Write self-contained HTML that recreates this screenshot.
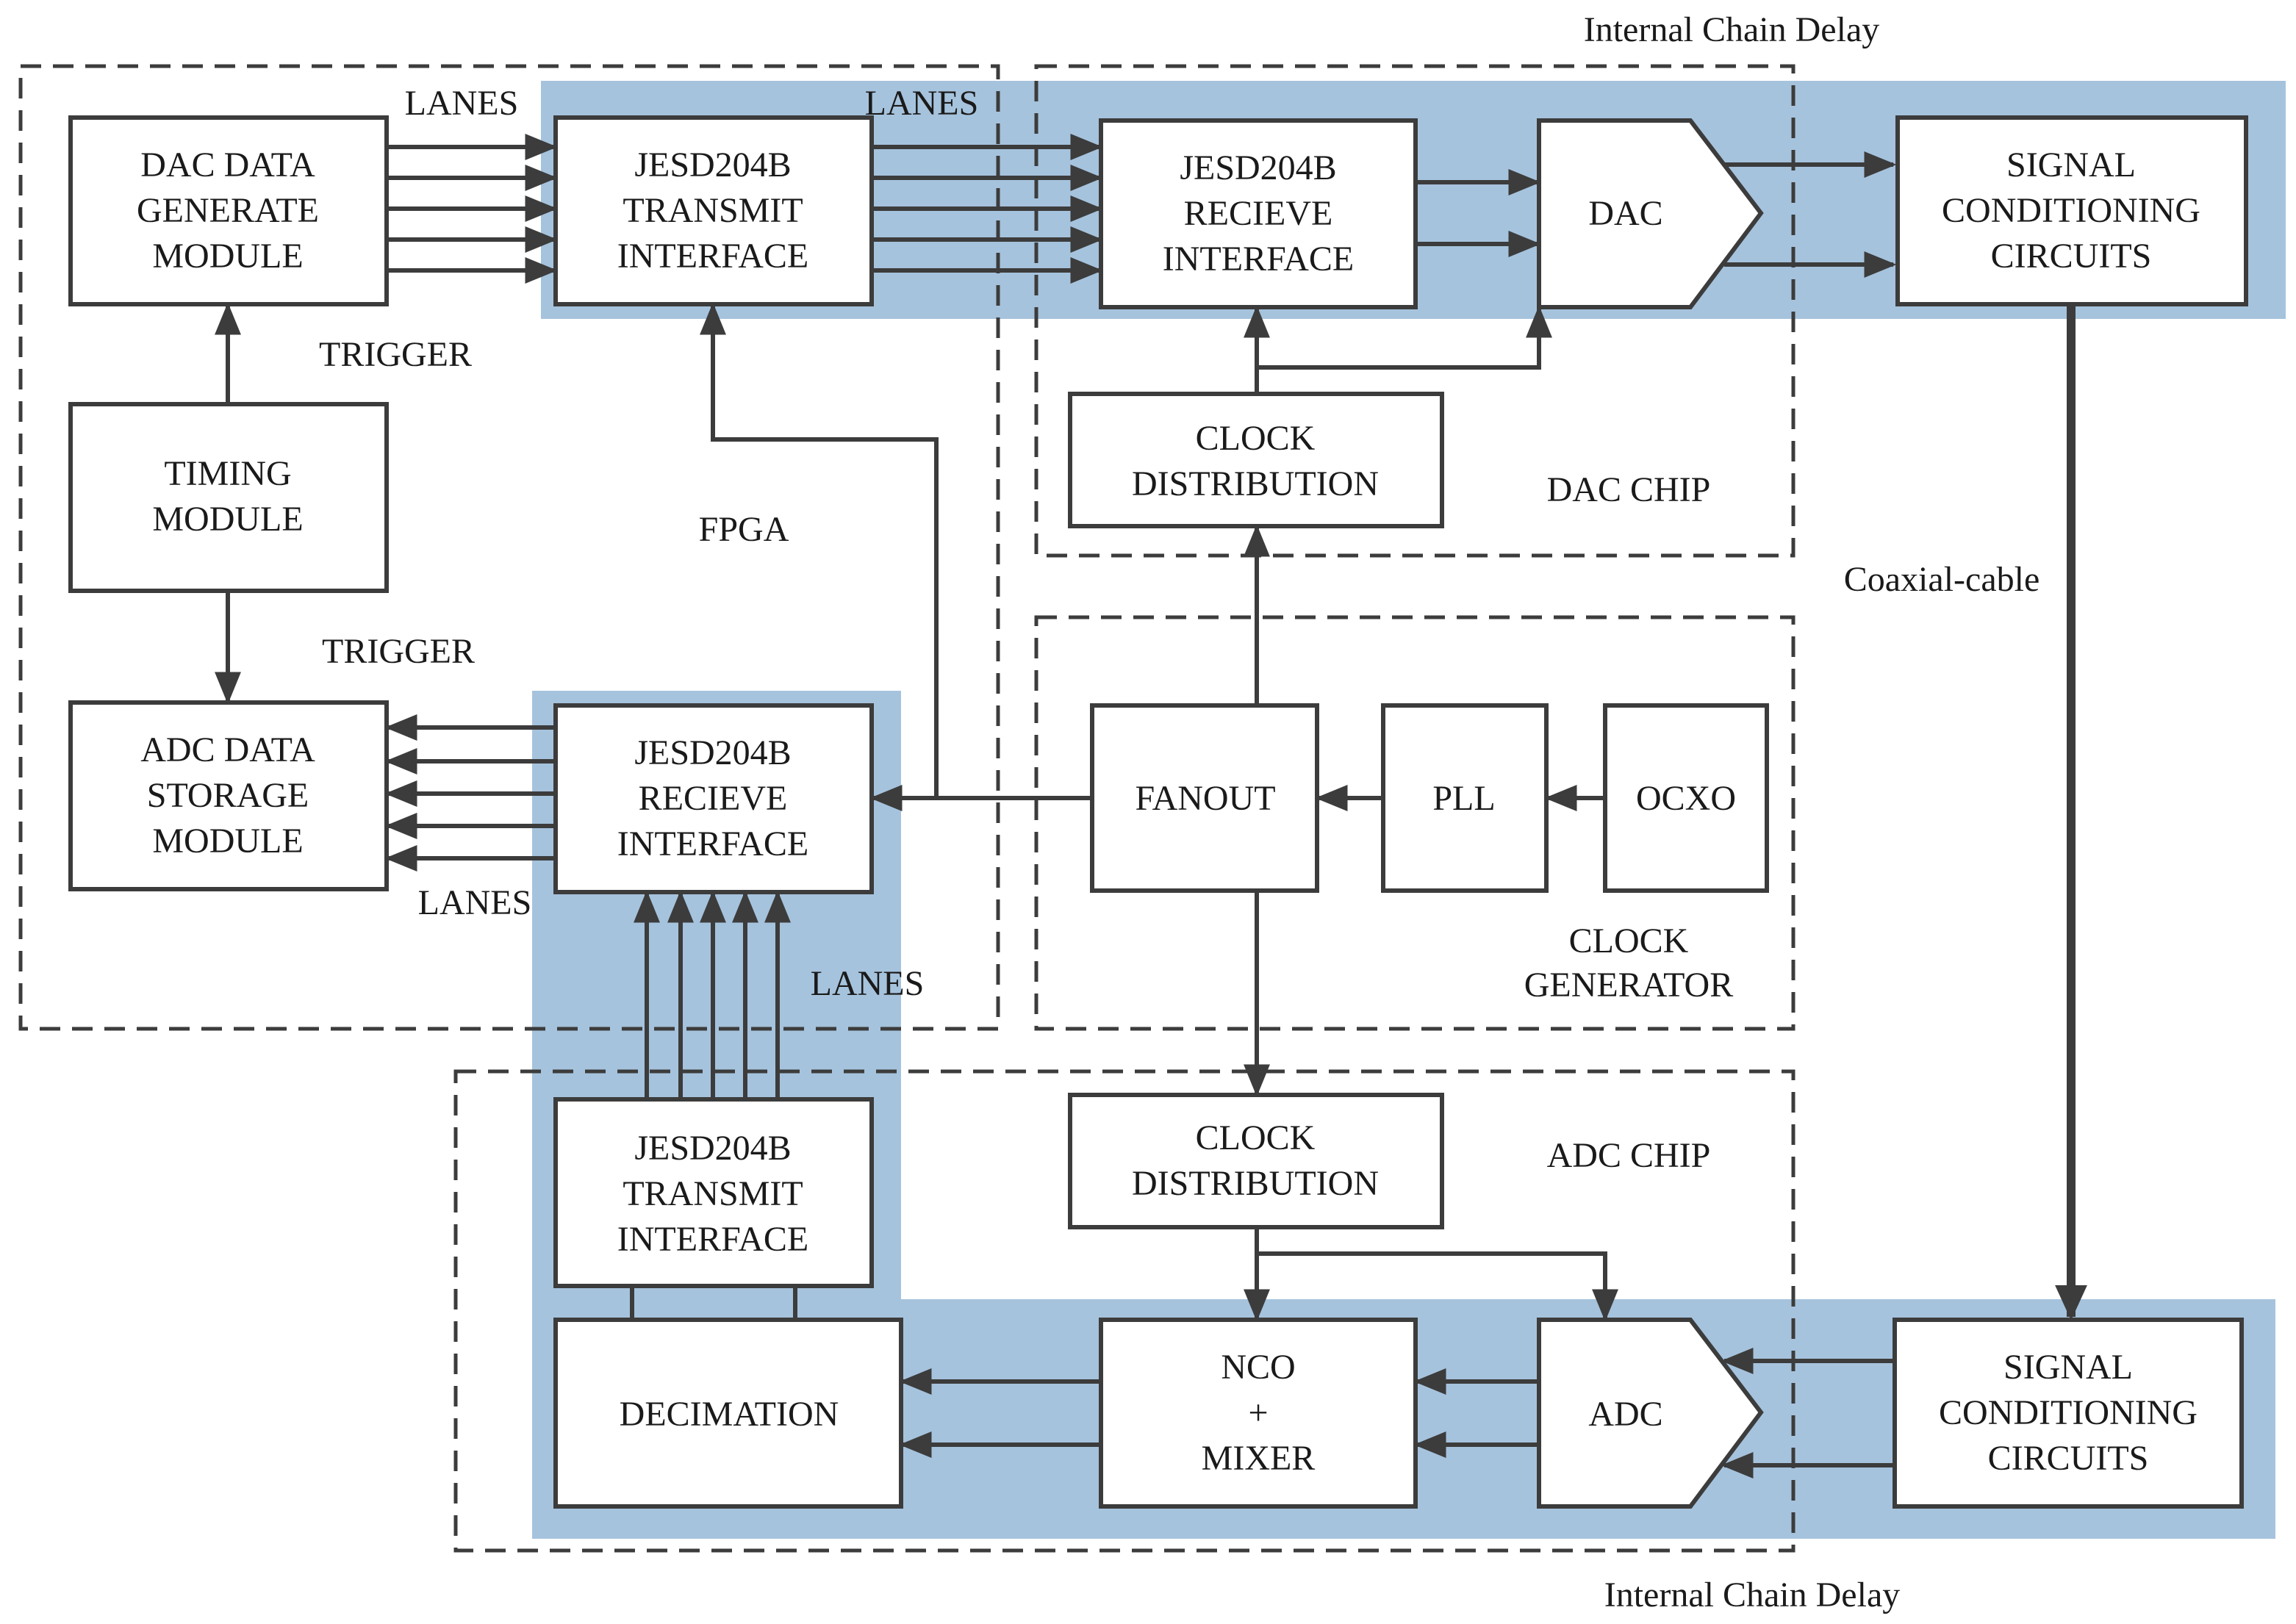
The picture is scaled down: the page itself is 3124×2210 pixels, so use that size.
<!DOCTYPE html>
<html><head><meta charset="utf-8"><style>
html,body{margin:0;padding:0;background:#fff;}
svg{display:block;}
text{font-family:"Liberation Serif",serif;font-size:24px;fill:#1a1a1a;text-anchor:middle;}
</style></head><body>
<svg width="3124" height="2210" viewBox="0 0 1562 1105" xmlns="http://www.w3.org/2000/svg">
<defs>
<marker id="a" viewBox="0 0 10 10" refX="9" refY="5" markerWidth="22" markerHeight="18" orient="auto" markerUnits="userSpaceOnUse" preserveAspectRatio="none">
<path d="M0,0 L10,5 L0,10 z" fill="#3c3c3c"/></marker>
<marker id="b" viewBox="0 0 10 10" refX="9" refY="5" markerWidth="24" markerHeight="22" orient="auto" markerUnits="userSpaceOnUse" preserveAspectRatio="none">
<path d="M0,0 L10,5 L0,10 z" fill="#3c3c3c"/></marker>
</defs>
<g fill="#a6c3dd">
<rect x="368" y="55" width="1187" height="162"/>
<rect x="362" y="470" width="251" height="415"/>
<rect x="362" y="884" width="1186" height="163"/>
</g>
<g fill="none" stroke="#3c3c3c" stroke-width="2.5" stroke-dasharray="14,8">
<rect x="14" y="45" width="665" height="655"/>
<rect x="705" y="45" width="515" height="333"/>
<rect x="705" y="420" width="515" height="280"/>
<rect x="310" y="729" width="910" height="326"/>
</g>
<g fill="#fff" stroke="#3c3c3c" stroke-width="3">
<rect x="48" y="80" width="215" height="127"/>
<rect x="378" y="80" width="215" height="127"/>
<rect x="749" y="82" width="214" height="127"/>
<path d="M1047,82 L1150,82 L1198,145 L1150,209 L1047,209 Z"/>
<rect x="1291" y="80" width="237" height="127"/>
<rect x="48" y="275" width="215" height="127"/>
<rect x="48" y="478" width="215" height="127"/>
<rect x="378" y="480" width="215" height="127"/>
<rect x="728" y="268" width="253" height="90"/>
<rect x="743" y="480" width="153" height="126"/>
<rect x="941" y="480" width="111" height="126"/>
<rect x="1092" y="480" width="110" height="126"/>
<rect x="728" y="745" width="253" height="90"/>
<rect x="378" y="748" width="215" height="127"/>
<rect x="378" y="898" width="235" height="127"/>
<rect x="749" y="898" width="214" height="127"/>
<path d="M1047,898 L1150,898 L1198,961 L1150,1025 L1047,1025 Z"/>
<rect x="1289" y="898" width="236" height="127"/>
</g>
<g fill="none" stroke="#3c3c3c" stroke-width="3" marker-end="url(#a)">
<line x1="263" y1="100" x2="377" y2="100"/><line x1="263" y1="121" x2="377" y2="121"/><line x1="263" y1="142" x2="377" y2="142"/><line x1="263" y1="163" x2="377" y2="163"/><line x1="263" y1="184" x2="377" y2="184"/>
<line x1="593" y1="100" x2="748" y2="100"/><line x1="593" y1="121" x2="748" y2="121"/><line x1="593" y1="142" x2="748" y2="142"/><line x1="593" y1="163" x2="748" y2="163"/><line x1="593" y1="184" x2="748" y2="184"/>
<line x1="963" y1="124" x2="1046" y2="124"/><line x1="963" y1="166" x2="1046" y2="166"/>
<line x1="1173" y1="112" x2="1288" y2="112"/><line x1="1173" y1="180" x2="1288" y2="180"/>
<line x1="155" y1="275" x2="155" y2="208"/>
<line x1="155" y1="402" x2="155" y2="477"/>
<line x1="378" y1="495" x2="264" y2="495"/><line x1="378" y1="518" x2="264" y2="518"/><line x1="378" y1="540" x2="264" y2="540"/><line x1="378" y1="562" x2="264" y2="562"/><line x1="378" y1="584" x2="264" y2="584"/>
<line x1="440" y1="748" x2="440" y2="608"/><line x1="463" y1="748" x2="463" y2="608"/><line x1="485" y1="748" x2="485" y2="608"/><line x1="507" y1="748" x2="507" y2="608"/><line x1="529" y1="748" x2="529" y2="608"/>
<line x1="743" y1="543" x2="594" y2="543"/>
<path d="M637,543V299H485V208"/>
<line x1="855" y1="480" x2="855" y2="359"/>
<line x1="855" y1="268" x2="855" y2="210"/>
<path d="M855,250H1047V210"/>
<line x1="941" y1="543" x2="897" y2="543"/>
<line x1="1092" y1="543" x2="1053" y2="543"/>
<line x1="855" y1="606" x2="855" y2="744"/>
<line x1="855" y1="835" x2="855" y2="897"/>
<path d="M855,853H1092V897"/>
<line x1="749" y1="940" x2="614" y2="940"/><line x1="749" y1="983" x2="614" y2="983"/>
<line x1="1047" y1="940" x2="964" y2="940"/><line x1="1047" y1="983" x2="964" y2="983"/>
<line x1="1289" y1="926" x2="1173" y2="926"/><line x1="1289" y1="997" x2="1173" y2="997"/>
</g>
<g fill="none" stroke="#3c3c3c" stroke-width="3">
<path d="M430,875V898M541,875V898"/>
<line x1="1409" y1="207" x2="1409" y2="896" stroke-width="6" marker-end="url(#b)"/>
</g>
<text x="155" y="120">DAC DATA</text><text x="155" y="151">GENERATE</text><text x="155" y="182">MODULE</text>
<text x="485" y="120">JESD204B</text><text x="485" y="151">TRANSMIT</text><text x="485" y="182">INTERFACE</text>
<text x="856" y="122">JESD204B</text><text x="856" y="153">RECIEVE</text><text x="856" y="184">INTERFACE</text>
<text x="1106" y="153">DAC</text>
<text x="1409" y="120">SIGNAL</text><text x="1409" y="151">CONDITIONING</text><text x="1409" y="182">CIRCUITS</text>
<text x="155" y="330">TIMING</text><text x="155" y="361">MODULE</text>
<text x="155" y="518">ADC DATA</text><text x="155" y="549">STORAGE</text><text x="155" y="580">MODULE</text>
<text x="485" y="520">JESD204B</text><text x="485" y="551">RECIEVE</text><text x="485" y="582">INTERFACE</text>
<text x="854" y="306">CLOCK</text><text x="854" y="337">DISTRIBUTION</text>
<text x="820" y="551">FANOUT</text>
<text x="996" y="551">PLL</text>
<text x="1147" y="551">OCXO</text>
<text x="854" y="782">CLOCK</text><text x="854" y="813">DISTRIBUTION</text>
<text x="485" y="789">JESD204B</text><text x="485" y="820">TRANSMIT</text><text x="485" y="851">INTERFACE</text>
<text x="496" y="970">DECIMATION</text>
<text x="856" y="938">NCO</text><text x="856" y="969">+</text><text x="856" y="1000">MIXER</text>
<text x="1106" y="970">ADC</text>
<text x="1407" y="938">SIGNAL</text><text x="1407" y="969">CONDITIONING</text><text x="1407" y="1000">CIRCUITS</text>
<text x="314" y="78">LANES</text>
<text x="627" y="78">LANES</text>
<text x="269" y="249">TRIGGER</text>
<text x="271" y="451">TRIGGER</text>
<text x="506" y="368">FPGA</text>
<text x="323" y="622">LANES</text>
<text x="590" y="677">LANES</text>
<text x="1108" y="341">DAC CHIP</text>
<text x="1321" y="402">Coaxial-cable</text>
<text x="1108" y="648">CLOCK</text><text x="1108" y="678">GENERATOR</text>
<text x="1108" y="794">ADC CHIP</text>
<text x="1178" y="28">Internal Chain Delay</text>
<text x="1192" y="1093">Internal Chain Delay</text>
</svg>
</body></html>
